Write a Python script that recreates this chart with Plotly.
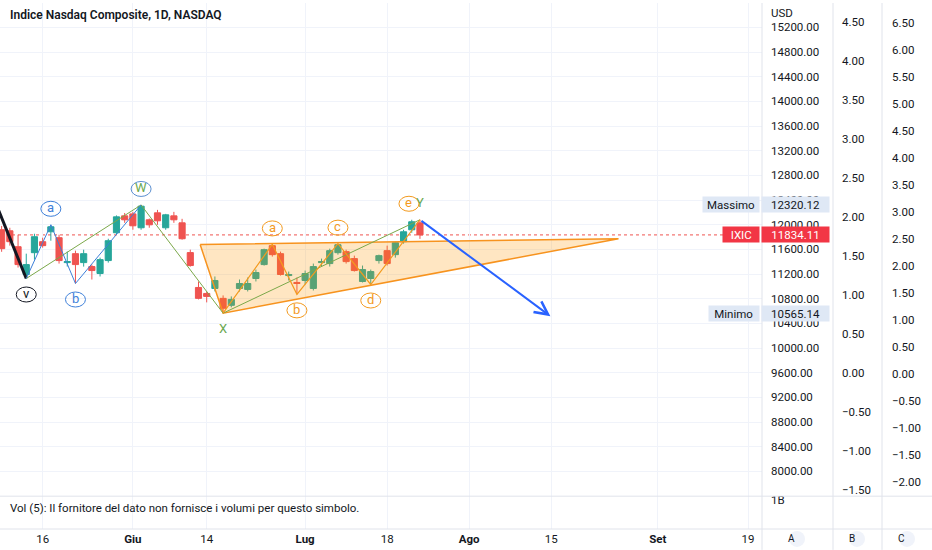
import plotly.graph_objects as go

# daily candles, index 0 = 9 May 2022 ... index 51 = 22 Jul 2022
day_idx = list(range(52))
opens = [11918, 11901, 11643, 11192, 11546, 11724, 11885, 11789, 11385, 11530,
         11385, 11321, 11208, 11418, 11869, 12143, 12175, 11950, 12079, 12192,
         11950, 12143, 12030, 11547, 10982, 10885, 10966, 10805, 10692, 10966,
         10950, 11127, 11353, 11660, 11530, 11175, 11063, 11095, 10966, 11385,
         11369, 11546, 11563, 11450, 11079, 11127, 11418, 11579, 11514, 11724,
         11917, 12030]
highs = [11980, 11950, 11837, 11530, 11853, 11789, 11998, 11837, 11563, 11579,
         11595, 11353, 11466, 11772, 12150, 12190, 12208, 12320.12, 12100, 12240,
         12175, 12208, 12095, 11595, 11079, 10917, 11160, 10853, 10837, 11111,
         11143, 11272, 11611, 11692, 11563, 11240, 11143, 11256, 11369, 11450,
         11611, 11692, 11595, 11498, 11337, 11272, 11514, 11660, 11724, 11917,
         12080, 12080]
lows = [11560, 11660, 11305, 11127, 11433, 11627, 11740, 11369, 11321, 11046,
        11320, 11111, 11160, 11385, 11837, 12030, 11918, 11918, 11950, 11998,
        11918, 12030, 11757, 11320, 10788, 10740, 10917, 10565.14, 10660, 10917,
        10917, 11079, 11337, 11482, 11175, 11095, 10870, 11030, 10933, 11320,
        11321, 11514, 11369, 11240, 11063, 11030, 11369, 11337, 11466, 11692,
        11869, 11770]
closes = [11611, 11724, 11353, 11353, 11805, 11660, 11966, 11418, 11401, 11353,
          11530, 11256, 11433, 11740, 12127, 12079, 11982, 12300, 11998, 12063,
          12160, 12079, 11772, 11337, 10805, 10837, 11095, 10644, 10788, 11046,
          11046, 11224, 11595, 11514, 11192, 11192, 11046, 11208, 11321, 11401,
          11579, 11675, 11401, 11256, 11272, 11240, 11498, 11369, 11708, 11885,
          12047, 11834.11]

last_close = 11834.11
max_price = 12320.12
min_price = 10565.14

date_ticks = [5, 16, 25, 37, 47, 57, 67, 80, 91]
date_labels = ["16", "<b>Giu</b>", "14", "<b>Lug</b>", "18", "<b>Ago</b>", "15", "<b>Set</b>", "19"]

price_ticks = [8000, 8400, 8800, 9200, 9600, 10000, 10400, 10800, 11200, 11600,
               12000, 12400, 12800, 13200, 13600, 14000, 14400, 14800, 15200]
b_ticks = [-1.5, -1.0, -0.5, 0.0, 0.5, 1.0, 1.5, 2.0, 2.5, 3.0, 3.5, 4.0, 4.5]
c_ticks = [-2.0, -1.5, -1.0, -0.5, 0.0, 0.5, 1.0, 1.5, 2.0, 2.5, 3.0, 3.5, 4.0,
           4.5, 5.0, 5.5, 6.0, 6.5]

# wave drawings
black_idx = [-1, 3]
black_px = [12440, 11127]
blue_idx = [3, 6, 9, 17]
blue_px = [11127, 11998, 11046, 12320]
green_idx = [3, 17, 27, 51]
green_px = [11127, 12320, 10565, 12080]
orange_idx = [27, 33, 36, 41, 45, 51]
orange_px = [10565, 11680, 10870, 11692, 11030, 12080]
tri_idx = [24.2, 75.2, 27, 24.2]
tri_px = [11677, 11773, 10565, 11677]
proj_idx = [51, 66.9]
proj_px = [12080, 10516]

label_text = ["v", "a", "b", "W", "X", "a", "b", "c", "d", "e", "Y"]
label_idx = [3, 6, 9, 17, 27, 33, 36, 41, 45, 51, 51]
label_px = [11127, 11998, 11046, 12320, 10565, 11680, 10870, 11692, 11030, 12080, 12080]
label_side = [-1, 1, -1, 1, -1, 1, -1, 1, -1, 1, 1]
label_dx = [0, 0, 0, 0, 0, 0, 0, 0, 0, -11, 0]
label_color = ["#131722", "#3d7fd9", "#3d7fd9", "#6aa84f", "#6aa84f", "#f39a1e",
               "#f39a1e", "#f39a1e", "#f39a1e", "#f39a1e", "#6aa84f"]
label_ring = ["#131722", "#3d7fd9", "#3d7fd9", "#5b8fd0", None, "#f39a1e",
              "#f39a1e", "#f39a1e", "#f39a1e", "#f39a1e", None]

W = 932
H = 550
PLOT_H = 529
x_end = 762 / W
grid = "#f0f3fa"
border = "#e0e3eb"
ink = "#131722"
FONT = "Roboto"

fig = go.Figure()

fig.add_trace(go.Scatter(x=tri_idx, y=tri_px, mode="lines", fill="toself",
                         fillcolor="rgba(255,152,0,0.24)",
                         line=dict(color="#f7931e", width=1.5), hoverinfo="skip"))

fig.add_trace(go.Candlestick(x=day_idx, open=opens, high=highs, low=lows, close=closes,
                             increasing=dict(line=dict(color="#26a69a", width=1), fillcolor="#26a69a"),
                             decreasing=dict(line=dict(color="#ef5350", width=1), fillcolor="#ef5350"),
                             hoverinfo="skip"))

fig.add_trace(go.Scatter(x=black_idx, y=black_px, mode="lines",
                         line=dict(color="#131722", width=3), hoverinfo="skip"))
fig.add_trace(go.Scatter(x=green_idx, y=green_px, mode="lines",
                         line=dict(color="#7ba84a", width=1), hoverinfo="skip"))
fig.add_trace(go.Scatter(x=blue_idx, y=blue_px, mode="lines",
                         line=dict(color="#3d7fd9", width=1), hoverinfo="skip"))
fig.add_trace(go.Scatter(x=orange_idx, y=orange_px, mode="lines",
                         line=dict(color="#f39a1e", width=1.2), hoverinfo="skip"))

# empty traces so the extra axes / volume pane exist
fig.add_trace(go.Scatter(x=[None], y=[None], yaxis="y2", hoverinfo="skip"))
fig.add_trace(go.Scatter(x=[None], y=[None], yaxis="y3", hoverinfo="skip"))
fig.add_trace(go.Scatter(x=[None], y=[None], yaxis="y4", hoverinfo="skip"))

# projection arrow
fig.add_annotation(x=proj_idx[1], y=proj_px[1], ax=proj_idx[0], ay=proj_px[0],
                   xref="x", yref="y", axref="x", ayref="y", text="",
                   showarrow=True, arrowhead=5, arrowsize=1.3, arrowwidth=2,
                   arrowcolor="#2962ff")

# price line
fig.add_shape(type="line", xref="x domain", x0=0, x1=1, yref="y", y0=last_close, y1=last_close,
              line=dict(color="#ef5350", width=1, dash="dot"), layer="below")

# wave labels
for t, xi, yp, side, dx, col, ring in zip(label_text, label_idx, label_px, label_side,
                                         label_dx, label_color, label_ring):
    off = 16 * side
    if ring:
        fig.add_shape(type="circle", xref="x", yref="y", xsizemode="pixel", ysizemode="pixel",
                      xanchor=xi, yanchor=yp, x0=dx - 10, x1=dx + 10, y0=off - 7.5, y1=off + 7.5,
                      line=dict(color=ring, width=1))
    fig.add_annotation(x=xi, y=yp, xref="x", yref="y", text=t, showarrow=False,
                       xshift=dx, yshift=off + 1, font=dict(family=FONT, size=13, color=col))

# price level tags on the axis
for name, val, bg, fg in [("Massimo", max_price, "#dfe8f5", ink),
                          ("IXIC", last_close, "#f23645", "white"),
                          ("Minimo", min_price, "#dfe8f5", ink)]:
    fig.add_annotation(x=760 / W, y=val, xref="paper", yref="y", xanchor="right",
                       text=name, showarrow=False, bgcolor=bg, height=13, borderpad=1,
                       width=len(name) * 6.6 + 8,
                       font=dict(family=FONT, size=11.5, color=fg))
    fig.add_annotation(x=761 / W, y=val, xref="paper", yref="y", xanchor="left",
                       text=f"{val:.2f}", showarrow=False, bgcolor=bg, height=13, borderpad=1,
                       width=65, font=dict(family=FONT, size=11.5, color=fg))

# frame lines
for xp in [762, 833, 882]:
    fig.add_shape(type="line", xref="paper", yref="paper", x0=xp / W, x1=xp / W,
                  y0=-21 / PLOT_H, y1=1, line=dict(color=border, width=1))
for yp in [496, 529]:
    fig.add_shape(type="line", xref="paper", yref="paper", x0=0, x1=1,
                  y0=(PLOT_H - yp) / PLOT_H, y1=(PLOT_H - yp) / PLOT_H,
                  line=dict(color=border, width=1))

# scale buttons
for t, xp in [("A", 797), ("B", 857), ("C", 907)]:
    fig.add_shape(type="circle", xref="paper", yref="paper", xsizemode="pixel", ysizemode="pixel",
                  xanchor=xp / W, yanchor=-10 / PLOT_H, x0=-8, x1=8, y0=-8, y1=8,
                  fillcolor="#f0f3fa", line=dict(width=0))
    fig.add_annotation(x=xp / W, y=-10 / PLOT_H, xref="paper", yref="paper", text=t,
                       showarrow=False, yanchor="middle",
                       font=dict(family=FONT, size=10, color=ink))

fig.add_annotation(x=8 / W, y=1 - 12 / PLOT_H, xref="paper", yref="paper", xanchor="left",
                   yanchor="middle", text="Indice Nasdaq Composite, 1D, NASDAQ", showarrow=False,
                   font=dict(family=FONT, size=12, color=ink, weight=600))
fig.add_annotation(x=8 / W, y=(PLOT_H - 508) / PLOT_H, xref="paper", yref="paper", xanchor="left",
                   yanchor="middle",
                   text="Vol (5): Il fornitore del dato non fornisce i volumi per questo simbolo.",
                   showarrow=False, font=dict(family=FONT, size=11.5, color=ink))
fig.add_annotation(x=769 / W, y=1 - 10 / PLOT_H, xref="paper", yref="paper", xanchor="left",
                   yanchor="middle", text="USD", showarrow=False,
                   font=dict(family=FONT, size=11.5, color=ink))

tick_font = dict(family=FONT, size=11.5, color=ink)
main_dom = [33 / PLOT_H, 1]

fig.update_layout(
    width=W, height=H,
    margin=dict(l=0, r=0, t=0, b=21),
    paper_bgcolor="white", plot_bgcolor="white",
    showlegend=False,
    boxgap=0.25, boxgroupgap=0,
    xaxis=dict(domain=[0, x_end], range=[-0.2, 92.7], anchor="y2",
               tickvals=date_ticks, ticktext=date_labels, tickfont=tick_font,
               showgrid=True, gridcolor=grid, zeroline=False, showline=False,
               ticks="", ticklabelstandoff=1, rangeslider=dict(visible=False)),
    yaxis=dict(domain=main_dom, range=[7597, 15595], side="right", anchor="free",
               position=x_end, tickvals=price_ticks, tickformat=".2f", tickfont=tick_font,
               showgrid=True, gridcolor=grid, zeroline=False, ticks="", ticklabelstandoff=8),
    yaxis2=dict(domain=[0, 33 / PLOT_H], range=[0, 1.15], side="right", anchor="free",
                position=x_end, tickvals=[1], ticktext=["1B"], tickfont=tick_font,
                showgrid=False, zeroline=False, ticks="", ticklabelstandoff=8),
    yaxis3=dict(overlaying="y", range=[-1.582, 4.742], side="right", anchor="free",
                position=833 / W, tickvals=b_ticks, tickformat=".2f", tickfont=tick_font,
                showgrid=False, zeroline=False, ticks="", ticklabelstandoff=8),
    yaxis4=dict(overlaying="y", range=[-2.265, 6.868], side="right", anchor="free",
                position=882 / W, tickvals=c_ticks, tickformat=".2f", tickfont=tick_font,
                showgrid=False, zeroline=False, ticks="", ticklabelstandoff=9),
)

fig.write_html("out.html", config={"displayModeBar": False},
               post_script="document.body.style.margin='0';")
